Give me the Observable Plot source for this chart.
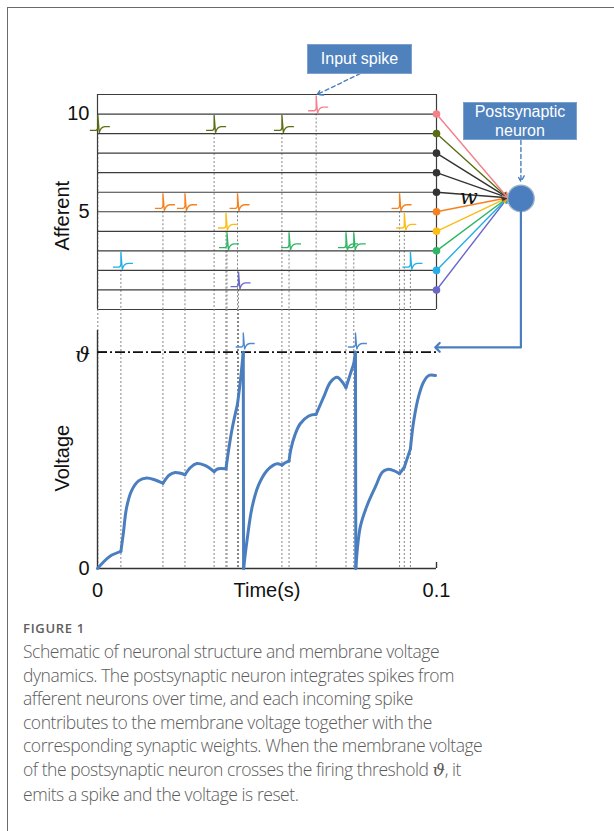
<!DOCTYPE html>
<html>
<head>
<meta charset="utf-8">
<script src="https://cdn.jsdelivr.net/npm/d3@7"></script>
<script src="https://cdn.jsdelivr.net/npm/@observablehq/plot@0.6"></script>
<style>
  html, body { margin: 0; padding: 0; background: #fff; }
  #page { position: relative; width: 614px; height: 831px; overflow: hidden; background: #fff; }
  #frame { position: absolute; left: 7px; top: 7px; width: 620px; height: 840px; border-left: 1px solid #6b6b6b; border-top: 1px solid #6b6b6b; }
  .plot { position: absolute; left: 0; }
  .box { position: absolute; background: #4f81bd; border: 1px solid #7ea0cc; color: #fff; font-family: "Liberation Sans", Arial, sans-serif; text-align: center; box-sizing: border-box; }
  #capHead { position: absolute; left: 23px; top: 622px; font-family: "Open Sans", sans-serif; font-weight: 600; font-size: 13px; line-height: 13px; color: #606060; letter-spacing: 0.7px; }
  #capText { position: absolute; left: 23px; top: 640px; font-family: "Open Sans", sans-serif; font-weight: 300; font-size: 17.5px; letter-spacing: -0.45px; line-height: 23.6px; color: #5c5c5c; white-space: nowrap; }
  .th { font-family: "DejaVu Serif", serif; font-style: italic; }
</style>
</head>
<body>
<div id="page">
  <div id="frame"></div>
  <div id="plotA" class="plot" style="top:0px"></div>
  <div id="plotB" class="plot" style="top:309px"></div>
  <div class="box" style="left:307px; top:44px; width:105px; height:30px; font-size:16px; line-height:28px;">Input spike</div>
  <div class="box" style="left:463px; top:102px; width:114px; height:38px; font-size:16px; line-height:18.5px; padding-top:0px;">Postsynaptic<br>neuron</div>
  <div id="capHead">FIGURE 1</div>
  <div id="capText">Schematic of neuronal structure and membrane voltage<br>dynamics. The postsynaptic neuron integrates spikes from<br>afferent neurons over time, and each incoming spike<br>contributes to the membrane voltage together with the<br>corresponding synaptic weights. When the membrane voltage<br>of the postsynaptic neuron crosses the firing threshold <span class="th">ϑ</span>, it<br>emits a spike and the voltage is reset.</div>
</div>
<script>
// ---------- data ----------
const rows = [1, 2, 3, 4, 5, 6, 7, 8, 9, 10];
const rowColors = ["#6b68c9", "#22aee6", "#2fb565", "#fbbd14", "#f5821f", "#333333", "#333333", "#333333", "#5a6e14", "#f4808a"];
const gridRows = [0, 1, 2, 3, 4, 5, 6, 7, 8, 9, 10, 11];
const rowTicks = [5, 10];

// afferent input spikes (time in s, afferent index)
const spikeTime = [0.0001, 0.0344, 0.0544, 0.0645, 0.0193, 0.0258, 0.0413, 0.0891, 0.0379, 0.0905, 0.0382, 0.0565, 0.0733, 0.0756, 0.0069, 0.0923, 0.0416];
const spikeRow  = [9, 9, 9, 10, 5, 5, 5, 5, 4, 4, 3, 3, 3, 3, 2, 2, 1];

// membrane voltage trace (time in ms, voltage relative to threshold, piece between kinks)
const vTime = [
  0, 1.7, 3.7, 6.9,
  6.9, 7.6, 8.6, 10.1, 12.1, 14.5, 17.0, 19.3,
  19.3, 21.2, 22.9, 24.5, 25.8,
  25.8, 27.5, 29.3, 31.5, 33.0, 34.4,
  34.4, 35.6, 37.9,
  37.9, 38.6, 39.7, 41.3,
  41.3, 42.2, 43.0,
  43.0, 43.1,
  43.1, 44.1, 45.6, 47.5, 50.0, 51.9, 53.0, 54.4,
  54.4, 55.5, 56.5,
  56.5, 57.0, 58.3, 59.8, 62.3, 64.5,
  64.5, 66.7, 68.7, 70.7, 72.1, 73.3,
  73.3, 74.5, 75.6,
  75.6, 76.1,
  76.1, 76.2,
  76.2, 77.5, 79.5, 82.0, 84.0, 85.5, 87.4, 89.1,
  89.1, 90.5,
  90.5, 92.3,
  92.3, 93.3, 94.8, 96.2, 97.7, 99.7
];
const vValue = [
  0, 0.029, 0.057, 0.079,
  0.079, 0.160, 0.283, 0.361, 0.405, 0.418, 0.409, 0.394,
  0.394, 0.432, 0.444, 0.440, 0.433,
  0.433, 0.468, 0.485, 0.478, 0.465, 0.448,
  0.448, 0.461, 0.461,
  0.461, 0.540, 0.645, 0.760,
  0.760, 0.875, 1.0,
  1.0, 0,
  0, 0.129, 0.283, 0.385, 0.453, 0.478, 0.484, 0.478,
  0.478, 0.490, 0.496,
  0.496, 0.548, 0.620, 0.669, 0.705, 0.713,
  0.713, 0.792, 0.861, 0.884, 0.864, 0.836,
  0.836, 0.895, 0.946,
  0.946, 1.0,
  1.0, 0,
  0, 0.191, 0.290, 0.378, 0.445, 0.458, 0.452, 0.438,
  0.438, 0.468,
  0.468, 0.553,
  0.553, 0.684, 0.800, 0.862, 0.892, 0.892
];
const vPiece = [
  0, 0, 0, 0,
  1, 1, 1, 1, 1, 1, 1, 1,
  2, 2, 2, 2, 2,
  3, 3, 3, 3, 3, 3,
  4, 4, 4,
  5, 5, 5, 5,
  6, 6, 6,
  7, 7,
  8, 8, 8, 8, 8, 8, 8, 8,
  9, 9, 9,
  10, 10, 10, 10, 10, 10,
  11, 11, 11, 11, 11, 11,
  12, 12, 12,
  13, 13,
  14, 14,
  15, 15, 15, 15, 15, 15, 15, 15,
  16, 16,
  17, 17,
  18, 18, 18, 18, 18, 18
];
// output spikes of the postsynaptic neuron (s)
const fireTime = [0.0430, 0.0761];
const threshold = 1;

// diagram anchors (time s, afferent units / voltage units)
const neuron = {t: 0.1249, row: 5.68};
const converge = {t: 0.1210, row: 5.72};
const weightLabel = {t: 0.1095, row: 5.72};
const inputArrow = {t1: 0.0775, r1: 12.07, t2: 0.0648, r2: 11.0};
const postArrow = {r1: 8.65, r2: 6.55};
const feedback = [{t: 0.1249, v: 1.65}, {t: 0.1249, v: 1.022}, {t: 0.1003, v: 1.022}];

// ---------- derived tables ----------
const spikes = spikeTime.map((t, i) => ({t, row: spikeRow[i]}));
const voltage = vTime.map((t, i) => ({t: t / 1000, v: vValue[i], piece: vPiece[i]}));
const rowData = rows.map((r, i) => ({row: r, color: rowColors[i]}));

// spike waveform glyph (custom symbol)
const spikeGlyph = {
  draw(ctx, size) {
    const u = Math.sqrt(size / Math.PI) / 10;
    ctx.moveTo(-8 * u, -3.3 * u);
    ctx.lineTo(-2 * u, -3.3 * u);
    ctx.quadraticCurveTo(-0.4 * u, -3.3 * u, 0, -6 * u);
    ctx.lineTo(0, -18.5 * u);
    ctx.lineTo(1.4 * u, -0.8 * u);
    ctx.bezierCurveTo(2.4 * u, -5 * u, 4 * u, -6.8 * u, 7 * u, -7 * u);
    ctx.lineTo(12 * u, -7 * u);
  }
};

const font = "'Liberation Sans', Arial, sans-serif";
const gray = "#858585";
const fs = 20;

const plotA = Plot.plot({
  width: 614, height: 310,
  marginLeft: 97, marginRight: 178, marginTop: 94, marginBottom: 1,
  x: {domain: [0, 0.1], axis: null},
  y: {domain: [0, 11], axis: null},
  color: {type: "identity"},
  style: {background: "transparent", overflow: "visible", fontFamily: font, color: "#111"},
  marks: [
    Plot.ruleX(spikes, {x: "t", y1: "row", y2: 0, stroke: gray, strokeDasharray: "2,2", strokeWidth: 1}),
    Plot.ruleY(gridRows, {y: d => d, x1: 0, x2: 0.1, stroke: "#3c3c3c", strokeWidth: 1.2}),
    Plot.ruleX([0, 0.1], {x: d => d, y1: 0, y2: 11, stroke: "#3c3c3c", strokeWidth: 1.2}),
    Plot.dot(spikes, {x: "t", y: "row", symbol: spikeGlyph, r: 10, fill: "none", stroke: d => rowColors[d.row - 1], strokeWidth: 1.3}),
    Plot.arrow(rowData, {x1: () => 0.1, y1: "row", x2: () => converge.t, y2: () => converge.row, stroke: "color", strokeWidth: 1.4, headLength: 6}),
    Plot.dot(rowData, {x: () => 0.1, y: "row", r: 3.8, fill: "color"}),
    Plot.dot([neuron], {x: "t", y: "row", r: 13.3, fill: "#4a7ebf", stroke: "#9fb3c4", strokeWidth: 1.3}),
    Plot.text(["w"], {x: () => weightLabel.t, y: () => weightLabel.row, text: d => d, fontFamily: "'DejaVu Serif', serif", fontStyle: "italic", fontSize: 21, fill: "#111"}),
    Plot.arrow([inputArrow], {x1: "t1", y1: "r1", x2: "t2", y2: "r2", stroke: "#4a7ebf", strokeWidth: 1.4, strokeDasharray: "4,3", headLength: 7}),
    Plot.arrow([postArrow], {x1: () => neuron.t, y1: "r1", x2: () => neuron.t, y2: "r2", stroke: "#4a7ebf", strokeWidth: 1.4, strokeDasharray: "4,3", headLength: 7}),
    Plot.text(rowTicks, {y: d => d, frameAnchor: "left", dx: -8, textAnchor: "end", text: d => String(d), fontSize: fs, fill: "#111"}),
    Plot.text(["Afferent"], {y: () => 4.8, frameAnchor: "left", dx: -35, rotate: -90, textAnchor: "middle", text: d => d, fontSize: fs, fill: "#111"})
  ]
});
document.getElementById("plotA").appendChild(plotA);

const plotB = Plot.plot({
  width: 614, height: 311,
  marginLeft: 97, marginRight: 178, marginTop: 21, marginBottom: 52,
  x: {domain: [0, 0.1], axis: null},
  y: {domain: [0, 1.1], axis: null},
  style: {background: "transparent", overflow: "visible", fontFamily: font, color: "#111"},
  marks: [
    Plot.ruleX(spikeTime, {x: d => d, insetTop: -21, stroke: gray, strokeDasharray: "2,2", strokeWidth: 1}),
    Plot.ruleY([threshold], {y: d => d, x1: 0, x2: 0.1, stroke: "#111", strokeWidth: 1.6, strokeDasharray: "10,3,2,3"}),
    Plot.ruleX([0], {x: d => d, y1: 0, y2: 1.1, stroke: "#333", strokeWidth: 1.4}),
    Plot.ruleY([0], {y: d => d, x1: 0, x2: 0.1, stroke: "#333", strokeWidth: 1.4}),
    Plot.ruleX([0.1], {x: d => d, y1: 0, y2: 0, insetTop: -6, stroke: "#333", strokeWidth: 1.4}),
    Plot.ruleY([threshold], {y: d => d, x1: 0, x2: 0, insetRight: -10, stroke: "#111", strokeWidth: 1.4}),
    Plot.line(voltage, {x: "t", y: "v", z: "piece", curve: "catmull-rom", stroke: "#4a7ebf", strokeWidth: 3}),
    Plot.dot(fireTime, {x: d => d, y: () => threshold, dy: -2, symbol: spikeGlyph, r: 9.5, fill: "none", stroke: "#4b8ad0", strokeWidth: 1.3}),
    Plot.line(feedback, {x: "t", y: "v", stroke: "#4a7ebf", strokeWidth: 2.2, markerEnd: "arrow"}),
    Plot.text([0], {y: d => d, frameAnchor: "left", dx: -8, textAnchor: "end", text: d => String(d), fontSize: fs, fill: "#111"}),
    Plot.text([threshold], {y: d => d, frameAnchor: "left", dx: -15, dy: 3, textAnchor: "middle", text: () => "ϑ", fontFamily: "'DejaVu Serif', serif", fontStyle: "italic", fontSize: 21, fill: "#111"}),
    Plot.text([0, 0.1], {x: d => d, frameAnchor: "bottom", dy: 14.5, lineAnchor: "top", text: d => String(d), fontSize: fs, fill: "#111"}),
    Plot.text(["Time(s)"], {frameAnchor: "bottom", dy: 14.5, lineAnchor: "top", text: d => d, fontSize: fs, fill: "#111"}),
    Plot.text(["Voltage"], {y: () => 0.51, frameAnchor: "left", dx: -35, rotate: -90, textAnchor: "middle", text: d => d, fontSize: fs, fill: "#111"})
  ]
});
document.getElementById("plotB").appendChild(plotB);
</script>
</body>
</html>
